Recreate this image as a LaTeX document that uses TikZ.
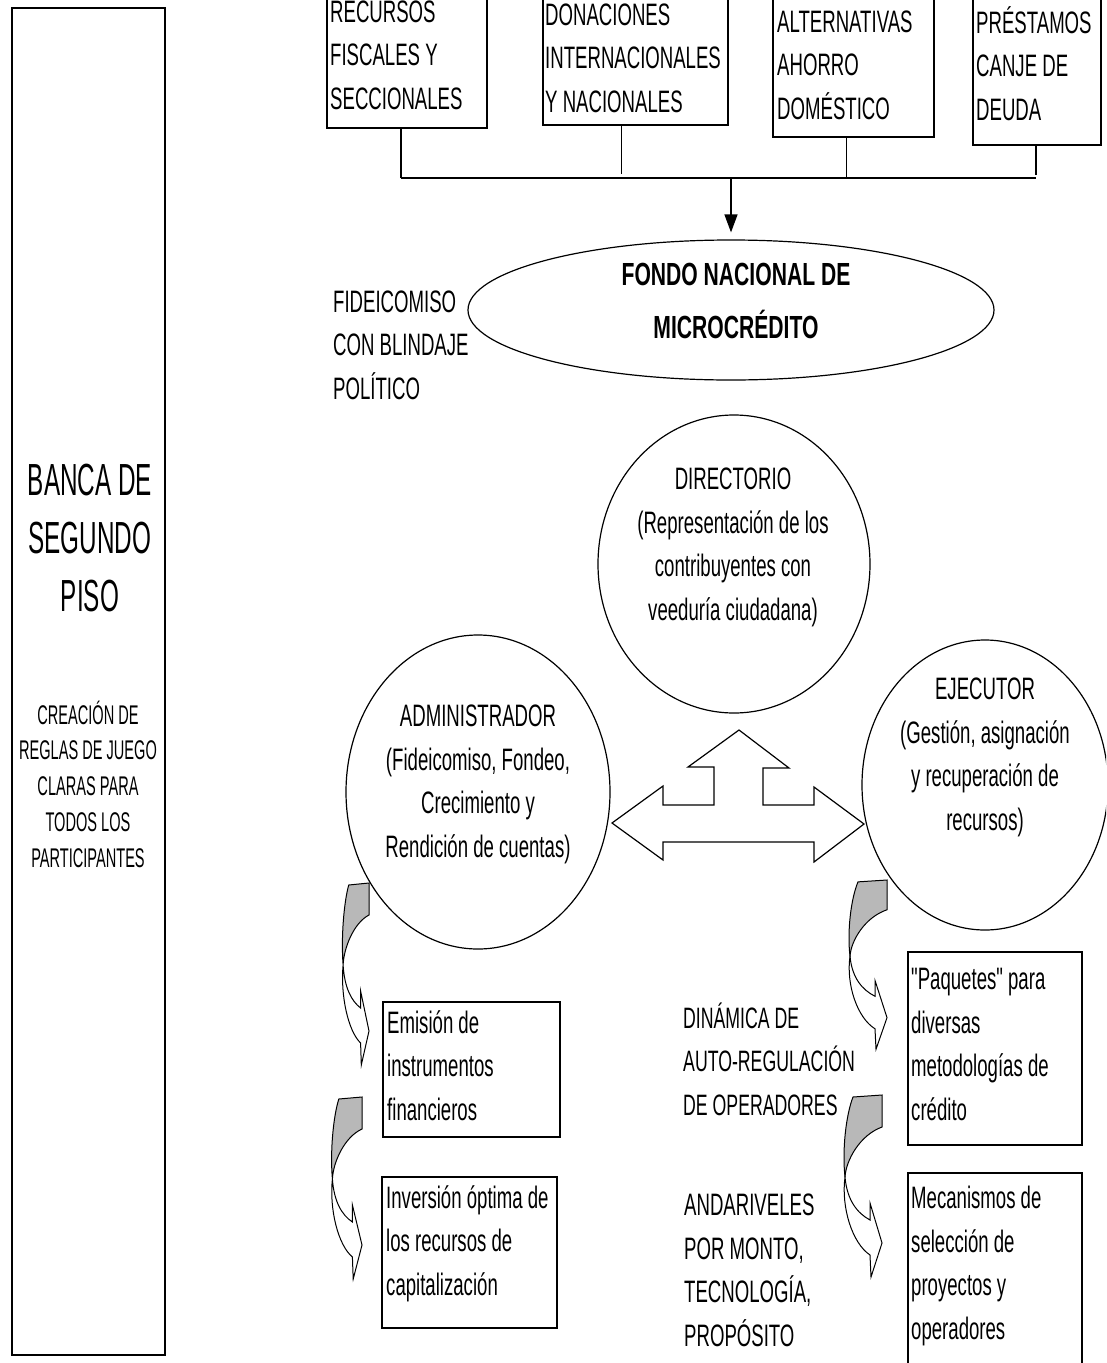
\documentclass[tikz,border=0pt]{standalone}
\usepackage{fontspec}
\setmainfont{Liberation Sans}[FakeStretch=0.6,Ligatures=TeXOff]
\newfontfamily\bancafont{Liberation Sans}[FakeStretch=0.54]
\newfontfamily\fondofont{Liberation Sans}[FakeStretch=0.66]
\usetikzlibrary{arrows.meta,shapes.geometric}

\tikzset{
  box/.style={draw,line width=1.3pt,inner sep=0pt},
  ring/.style={draw,ellipse,line width=1.2pt,inner sep=0pt},
  % multi-line text: placed by the baseline of its last line
  txt/.style={inner sep=0pt,align=left,anchor=base west,font=\fontsize{31}{43.5}\selectfont},
  ctxt/.style={txt,align=center,anchor=base},
  link/.style={line width=1.4pt},
  curvarrow/.pic={
    % grey back face of the bent band
    \filldraw[line width=1pt,fill=black!28] (-29,2) .. controls (-36,20) and (-40,55) .. (-37,82)
      .. controls (-36,65) and (-22,40) .. (0,32) -- (0,0) -- cycle;
    % front face with the head
    \filldraw[line width=1pt,fill=white] (-37,82) .. controls (-35,105) and (-25,118) .. (-12,125)
      -- (-12,108) -- (0,148) -- (-11,182) -- (-12,160)
      .. controls (-30,148) and (-41,112) .. (-37,82) -- cycle;
  }
}

\begin{document}
\begin{tikzpicture}[x=1pt,y=-1pt]

    \useasboundingbox (0,0) rectangle (1106,1363);
    \fill[white] (0,0) rectangle (1106,1363);
    \clip (0,0) rectangle (1106,1363);

    % Left column
    \node[box, minimum width=153pt, minimum height=1347pt] (banca) at (88.5,681.5) {};
    \node[font=\bancafont\fontsize{45}{58}\selectfont, align=center, inner sep=0pt, anchor=base] (bancatxt) at (90,611) {BANCA DE\\SEGUNDO\\PISO};
    \node[font=\bancafont\fontsize{27}{35.7}\selectfont, align=center, inner sep=0pt, anchor=base] (reglas) at (88,867) {CREACIÓN DE\\REGLAS DE JUEGO\\CLARAS PARA\\TODOS LOS\\PARTICIPANTES};

    % Sources of funds
    \node[box, minimum width=160pt, minimum height=138pt] (rec) at (407,59) {};
    \node[txt] (rectxt) at (330,109) {RECURSOS\\FISCALES Y\\SECCIONALES};
    \node[box, minimum width=185pt, minimum height=135pt] (don) at (635.5,57.5) {};
    \node[txt] (dontxt) at (545,112) {DONACIONES\\INTERNACIONALES\\Y NACIONALES};
    \node[box, minimum width=161pt, minimum height=147pt] (alt) at (853.5,63.5) {};
    \node[txt] (alttxt) at (777,119) {ALTERNATIVAS\\AHORRO\\DOMÉSTICO};
    \node[box, minimum width=128pt, minimum height=155pt] (pre) at (1037,67.5) {};
    \node[txt] (pretxt) at (976,120) {PRÉSTAMOS\\CANJE DE\\DEUDA};

    % Collecting line
    \coordinate (busW) at (401,178);
    \coordinate (busE) at (1036,178);
    \draw[line width=2.6pt] (busW) -- (busE);
    \draw[link] ([xshift=-6pt]rec.south) -- ([xshift=-6pt]rec.south |- busW);
    \draw[link] ([xshift=-14pt]don.south) -- ([xshift=-14pt,yshift=4pt]don.south |- busW);
    \draw[link] ([xshift=-7pt]alt.south) -- ([xshift=-7pt]alt.south |- busW);
    \draw[link] ([xshift=-1pt]pre.south) -- ([xshift=-1pt,yshift=3pt]pre.south |- busW);

    % Fund
    \node[ring, minimum width=526pt, minimum height=140pt] (fondo) at (731,310) {};
    \node[font=\fondofont\bfseries\fontsize{32}{53}\selectfont, align=center, inner sep=0pt, anchor=base] (fondotxt) at (736,338) {FONDO NACIONAL DE\\MICROCRÉDITO};
    \draw[link,-{Triangle[width=13pt,length=18pt]},shorten >=7pt] (busW -| fondo.north) -- (fondo.north);
    \node[txt] (fidei) at (333,399) {FIDEICOMISO\\CON BLINDAJE\\POLÍTICO};

    % Governing bodies
    \node[ring, minimum width=272pt, minimum height=298pt] (direc) at (734,564) {};
    \node[ctxt] (directxt) at (733,620) {DIRECTORIO\\(Representación de los\\contribuyentes con\\veeduría ciudadana)};
    \node[ring, minimum width=264pt, minimum height=314pt] (admin) at (478,792) {};
    \node[ctxt] (admintxt) at (478,857) {ADMINISTRADOR\\(Fideicomiso, Fondeo,\\Crecimiento y\\Rendición de cuentas)};
    \node[ring, minimum width=246pt, minimum height=290pt] (ejec) at (985,785) {};
    \node[ctxt] (ejectxt) at (985,830) {EJECUTOR\\(Gestión, asignación\\y recuperación de\\recursos)};

    % Three-way hollow arrow
    \draw[line width=1.2pt] (612,823) -- (663,786) -- (663,805) -- (714,805) -- (714,767) -- (688,767)
      -- (739,730) -- (789,768) -- (763,768) -- (763,805) -- (814,805) -- (814,787) -- (864,824)
      -- (814,862) -- (814,842) -- (663,842) -- (663,860) -- cycle;

    % Outputs
    \node[box, minimum width=177pt, minimum height=135pt] (emi) at (471.5,1069.5) {};
    \node[txt] (emitxt) at (387,1120) {Emisión de\\instrumentos\\financieros};
    \node[box, minimum width=175pt, minimum height=151pt] (inv) at (469.5,1252.5) {};
    \node[txt] (invtxt) at (386,1295) {Inversión óptima de\\los recursos de\\capitalización};
    \node[box, minimum width=174pt, minimum height=193pt] (paq) at (995,1048.5) {};
    \node[txt] (paqtxt) at (911,1120) {"Paquetes" para\\diversas\\metodologías de\\crédito};
    \node[box, minimum width=174pt, minimum height=193pt] (mec) at (995,1269.5) {};
    \node[txt] (mectxt) at (911,1339) {Mecanismos de\\selección de\\proyectos y\\operadores};

    \node[txt, font=\fontsize{29.5}{43.5}\selectfont] (dinam) at (683,1115) {DINÁMICA DE\\AUTO-REGULACIÓN\\DE OPERADORES};
    \node[txt] (andar) at (684,1346) {ANDARIVELES\\POR MONTO,\\TECNOLOGÍA,\\PROPÓSITO};

    % Bent arrows
    \pic[xscale=0.7] at (369,883) {curvarrow};
    \pic[xscale=0.8] at (362,1097) {curvarrow};
    \pic[yscale=0.93] at (887,880) {curvarrow};
    \pic at (882,1095) {curvarrow};

\end{tikzpicture}
\end{document}
